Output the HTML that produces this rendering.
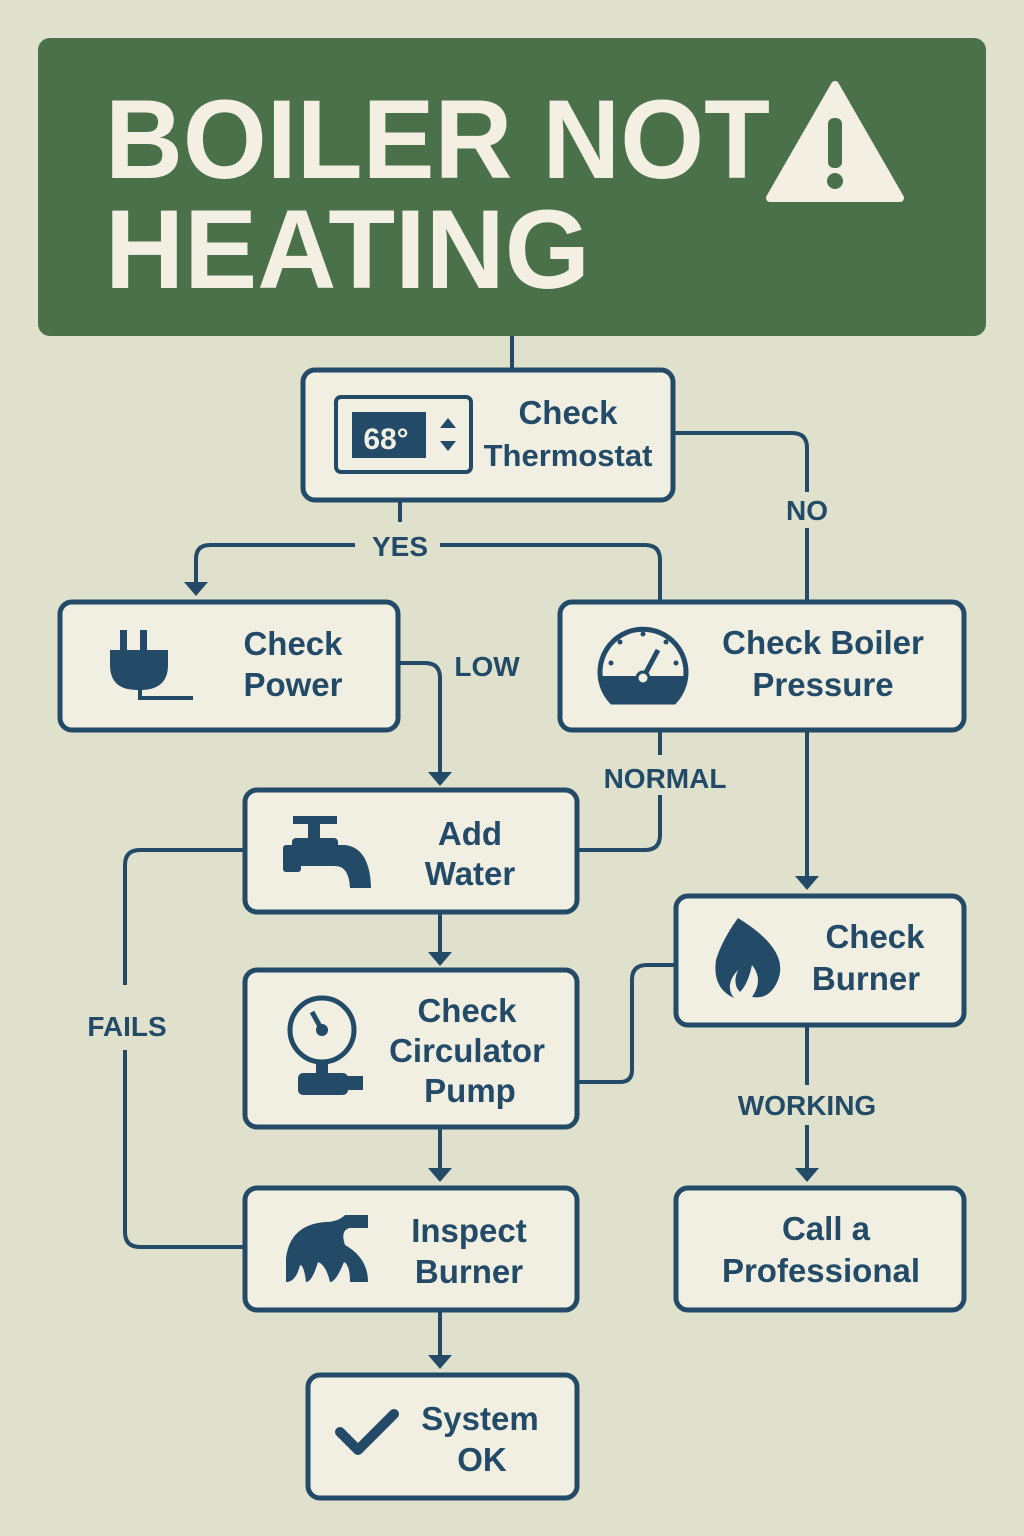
<!DOCTYPE html>
<html><head><meta charset="utf-8"><style>
html,body{margin:0;padding:0;background:#dfe1cc;}
svg{display:block}
text{font-family:"Liberation Sans",sans-serif;font-weight:bold;}
</style></head><body>
<svg width="1024" height="1536" viewBox="0 0 1024 1536" xmlns="http://www.w3.org/2000/svg">
<rect width="1024" height="1536" fill="#dfe1cc"/>
<rect x="38" y="38" width="948" height="298" rx="12" fill="#4b714b"/>
<text x="105" y="178" font-size="112" fill="#f3f0e3" textLength="665" lengthAdjust="spacingAndGlyphs">BOILER NOT</text>
<text x="105" y="288" font-size="112" fill="#f3f0e3" textLength="485" lengthAdjust="spacingAndGlyphs">HEATING</text>
<path d="M835 85 L900 198 L770 198 Z" fill="#f3f0e3" stroke="#f3f0e3" stroke-width="8" stroke-linejoin="round"/>
<rect x="828" y="118" width="14" height="50" rx="6" fill="#4b714b"/>
<circle cx="835" cy="181" r="8" fill="#4b714b"/>

<g fill="none" stroke="#234b68" stroke-width="4" stroke-linejoin="round">
<path d="M512 336 V370"/>
<path d="M400 500 V522"/>
<path d="M355 545 H210 Q196 545 196 559 V585"/>
<path d="M440 545 H645 Q660 545 660 560 V602"/>
<path d="M673 433 H792 Q807 433 807 448 V492"/>
<path d="M807 528 V602"/>
<path d="M398 663 H425 Q440 663 440 678 V772"/>
<path d="M660 730 V755"/>
<path d="M660 795 V835 Q660 850 645 850 H577"/>
<path d="M807 730 V878"/>
<path d="M440 912 V953"/>
<path d="M676 965 H647 Q632 965 632 980 V1070 Q632 1082 620 1082 H577"/>
<path d="M807 1025 V1085"/>
<path d="M807 1125 V1170"/>
<path d="M440 1127 V1170"/>
<path d="M245 850 H140 Q125 850 125 865 V985"/>
<path d="M125 1050 V1232 Q125 1247 140 1247 H245"/>
<path d="M440 1310 V1357"/>
</g>
<g fill="#234b68">
<path d="M184 582 L208 582 L196 596 Z"/>
<path d="M428 772 L452 772 L440 786 Z"/>
<path d="M795 876 L819 876 L807 890 Z"/>
<path d="M428 952 L452 952 L440 966 Z"/>
<path d="M795 1168 L819 1168 L807 1182 Z"/>
<path d="M428 1168 L452 1168 L440 1182 Z"/>
<path d="M428 1355 L452 1355 L440 1369 Z"/>
</g>
<g font-size="28" fill="#234b68" text-anchor="middle">
<text x="400" y="556">YES</text>
<text x="807" y="520">NO</text>
<text x="487" y="676">LOW</text>
<text x="665" y="788">NORMAL</text>
<text x="807" y="1115">WORKING</text>
<text x="127" y="1036">FAILS</text>
</g>

<g fill="#f1efe2" stroke="#234b68" stroke-width="5">
<rect x="303" y="370" width="370" height="130" rx="12"/>
<rect x="60" y="602" width="338" height="128" rx="12"/>
<rect x="560" y="602" width="404" height="128" rx="12"/>
<rect x="245" y="790" width="332" height="122" rx="12"/>
<rect x="676" y="896" width="288" height="129" rx="12"/>
<rect x="245" y="970" width="332" height="157" rx="12"/>
<rect x="676" y="1188" width="288" height="122" rx="12"/>
<rect x="245" y="1188" width="332" height="122" rx="12"/>
<rect x="308" y="1375" width="269" height="123" rx="12"/>
</g>

<g font-size="33" fill="#234b68" text-anchor="middle">
<text x="568" y="424">Check</text>
<text x="568" y="466" font-size="31">Thermostat</text>
<text x="293" y="655">Check</text>
<text x="293" y="696">Power</text>
<text x="823" y="654">Check Boiler</text>
<text x="823" y="696">Pressure</text>
<text x="470" y="845">Add</text>
<text x="470" y="885">Water</text>
<text x="875" y="948">Check</text>
<text x="866" y="990">Burner</text>
<text x="467" y="1022">Check</text>
<text x="467" y="1062">Circulator</text>
<text x="470" y="1102">Pump</text>
<text x="826" y="1240">Call a</text>
<text x="821" y="1282">Professional</text>
<text x="469" y="1242">Inspect</text>
<text x="469" y="1283">Burner</text>
<text x="480" y="1430">System</text>
<text x="482" y="1471">OK</text>
</g>

<!-- thermostat icon -->
<rect x="336" y="397" width="135" height="75" rx="5" fill="none" stroke="#234b68" stroke-width="4"/>
<rect x="352" y="412" width="74" height="46" fill="#234b68"/>
<text x="386" y="449" font-size="30" fill="#f1efe2" text-anchor="middle">68°</text>
<path d="M440 428 L448 418 L456 428 Z M440 441 L456 441 L448 451 Z" fill="#234b68"/>
<!-- plug -->
<g fill="#234b68">
<rect x="120" y="630" width="7" height="22"/><rect x="140" y="630" width="7" height="22"/>
<path d="M110 650 H168 V665 Q168 690 140 690 H137 Q110 690 110 665 Z"/>
</g>
<path d="M140 688 V698 H193" fill="none" stroke="#234b68" stroke-width="4"/>
<!-- gauge -->
<path d="M612 702 A43 43 0 1 1 674 702 Z" fill="none" stroke="#234b68" stroke-width="5"/>
<path d="M601 676 H685 Q683 692 674 703 H612 Q603 692 601 676 Z" fill="#234b68"/>
<g fill="#234b68"><circle cx="643" cy="634" r="2.5"/><circle cx="620" cy="642" r="2.5"/><circle cx="666" cy="642" r="2.5"/><circle cx="611" cy="663" r="2.5"/><circle cx="676" cy="663" r="2.5"/></g>
<path d="M643 678 L658 650" stroke="#234b68" stroke-width="5"/>
<circle cx="643" cy="678" r="6" fill="#f1efe2" stroke="#234b68" stroke-width="3"/>
<!-- faucet -->
<g fill="#234b68">
<rect x="293" y="816" width="44" height="8"/><rect x="308" y="822" width="12" height="20"/>
<rect x="292" y="838" width="46" height="14" rx="4"/>
<rect x="283" y="845" width="18" height="27" rx="3"/>
<path d="M300 845 H345 Q370 848 371 888 H350 Q349 866 335 866 H300 Z"/>
</g>
<!-- flame -->
<path d="M738 918 Q790 950 778 980 Q770 1000 752 997 Q764 980 752 965 Q748 984 740 992 Q732 984 738 970 Q724 985 734 998 Q712 988 716 960 Q722 940 738 918 Z" fill="#234b68"/>
<!-- pump -->
<circle cx="322" cy="1030" r="32" fill="none" stroke="#234b68" stroke-width="5"/>
<path d="M322 1030 L312 1012" stroke="#234b68" stroke-width="5"/>
<circle cx="322" cy="1030" r="6" fill="#234b68"/>
<g fill="#234b68"><rect x="316" y="1060" width="12" height="16"/><rect x="298" y="1073" width="50" height="22" rx="5"/><rect x="345" y="1076" width="18" height="14"/></g>
<!-- inspect burner -->
<path d="M286 1282 V1258 Q290 1225 325 1222 Q338 1222 345 1215 H368 V1228 H350 Q340 1230 345 1245 Q368 1258 368 1282 H350 Q350 1265 344 1262 Q336 1282 330 1282 Q326 1265 318 1262 Q312 1282 306 1282 Q304 1265 300 1265 Q296 1282 286 1282 Z" fill="#234b68"/>
<!-- check -->
<path d="M340 1432 L358 1450 L394 1414" fill="none" stroke="#234b68" stroke-width="10" stroke-linecap="round" stroke-linejoin="round"/>
</svg>
</body></html>
